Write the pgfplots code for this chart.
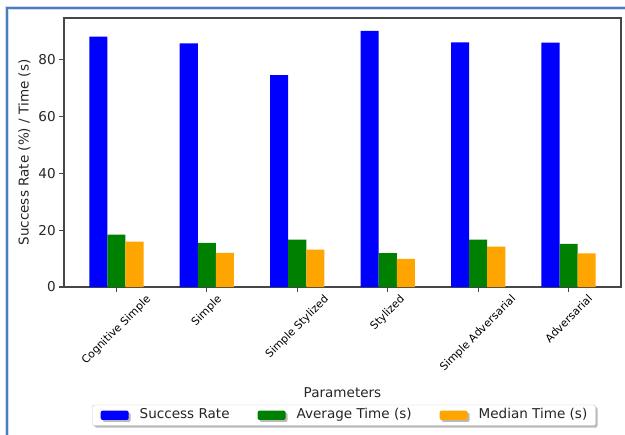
\documentclass[border=0pt]{standalone}
\usepackage{fontspec}
\setmainfont{DejaVu Sans}
\usepackage{pgfplots}
\usepackage{pgfplotstable}
\pgfplotsset{compat=1.18}
\usetikzlibrary{shadows}
\definecolor{mpblue}{RGB}{0,0,255}
\definecolor{mpgreen}{RGB}{0,128,0}
\definecolor{mporange}{RGB}{255,165,0}
\definecolor{frameblue}{RGB}{74,126,187}
\definecolor{halo}{RGB}{205,220,238}
\definecolor{spine}{RGB}{70,70,70}

\pgfplotstableread{
x success avg median
0 88.1 18.4 16.0
1 85.8 15.5 12.0
2 74.6 16.7 13.2
3 90.2 11.9 9.9
4 86.1 16.7 14.2
5 86.0 15.2 11.8
}\datatable

\pgfplotsset{patchlegend/.style={legend image code/.code={\fill[##1] (0bp,-4.65bp) rectangle (28bp,4.65bp);}}}

\begin{document}
\begin{tikzpicture}
\useasboundingbox (-64bp,-148bp) rectangle (561bp,287bp);
\draw[halo, line width=4bp] (-56.7bp,-152bp) -- (-56.7bp,279bp) -- (565bp,279bp);
\draw[frameblue, line width=2bp] (-56.7bp,-152bp) -- (-56.7bp,279bp) -- (565bp,279bp);
\begin{axis}[
  at={(0,0)}, anchor=south west,
  width=557bp, height=269bp, scale only axis,
  ybar, bar width=0.2,
  xmin=-0.58, xmax=5.58, ymin=0, ymax=94.7,
  xtick={0,1,2,3,4,5},
  xticklabels={\rotatebox{45}{Cognitive Simple},\rotatebox{45}{Simple},\rotatebox{45}{Simple Stylized},\rotatebox{45}{Stylized},\rotatebox{45}{Simple Adversarial},\rotatebox{45}{Adversarial}},
  ytick={0,20,40,60,80},
  tick align=outside, tick pos=left, major tick length=4.8bp,
  axis line style={spine, line width=1.1bp},
  every tick/.style={spine, line width=1.1bp},
  xticklabel style={anchor=north, font=\fontsize{10.9}{13}\selectfont, inner sep=2bp},
  yticklabel style={font=\fontsize{13.6}{16}\selectfont, text=black!85},
  /pgf/number format/assume math mode=true,
  xlabel={Parameters}, ylabel={Success Rate (\%) / Time (s)},
  label style={font=\fontsize{13.6}{16}\selectfont, text=black!85},
  xlabel style={at={(axis description cs:0.5,-0.4126)}, anchor=base},
  ylabel style={at={(axis description cs:-0.071,0.5)}, anchor=center},
  legend columns=3,
  legend style={at={(axis description cs:0.5027,-0.477)}, anchor=center,
    draw=black!22, fill=white, rounded corners=2bp,
    drop shadow={shadow xshift=2bp, shadow yshift=-2bp, fill=black!45, opacity=0.6},
    font=\fontsize{13.6}{16}\selectfont,
    inner xsep=5bp, inner ysep=5.5bp, minimum width=503bp,
    nodes={inner sep=0pt, minimum width=0pt, text height=0.76em, text depth=0.2em, text=black!85},
    /tikz/every odd column/.append style={column sep=11bp},
    /tikz/every even column/.append style={column sep=28bp},
  },
]
\addplot[fill=mpblue, draw=none, bar shift=0pt, patchlegend] table[x expr=\thisrow{x}-0.2, y=success] {\datatable};
\addplot[fill=mpgreen, draw=none, bar shift=0pt, patchlegend] table[x=x, y=avg] {\datatable};
\addplot[fill=mporange, draw=none, bar shift=0pt, patchlegend] table[x expr=\thisrow{x}+0.2, y=median] {\datatable};
\legend{Success Rate, Average Time (s), Median Time (s)}
\end{axis}
\end{tikzpicture}
\end{document}
